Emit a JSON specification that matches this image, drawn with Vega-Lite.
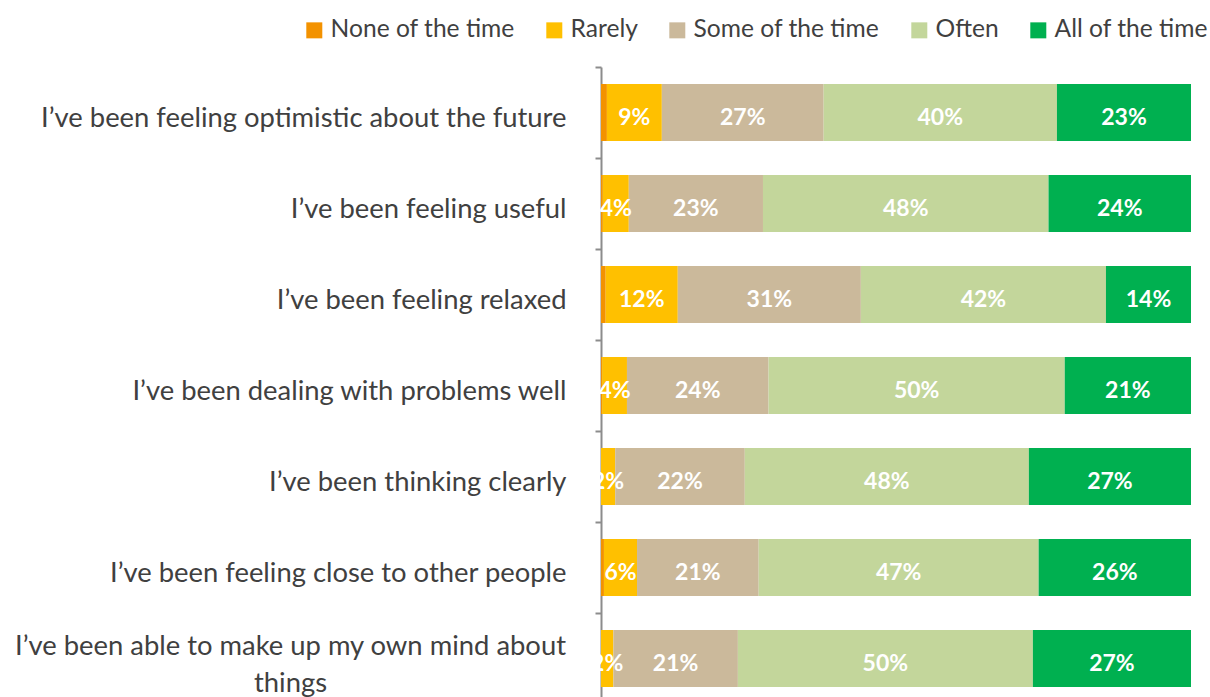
{
  "$schema": "https://vega.github.io/schema/vega-lite/v6.json",
  "autosize": "none",
  "width": 590,
  "height": 637,
  "padding": {"left": 601, "top": 67, "right": 19, "bottom": 0},
  "background": "white",
  "config": {"view": {"stroke": null}, "font": "Lato"},
  "data": {
    "values": [
      {"q": "I’ve been feeling optimistic about the future", "r": "None of the time", "k": 1, "v": 0.010},
      {"q": "I’ve been feeling optimistic about the future", "r": "Rarely", "k": 2, "v": 0.093},
      {"q": "I’ve been feeling optimistic about the future", "r": "Some of the time", "k": 3, "v": 0.274},
      {"q": "I’ve been feeling optimistic about the future", "r": "Often", "k": 4, "v": 0.395},
      {"q": "I’ve been feeling optimistic about the future", "r": "All of the time", "k": 5, "v": 0.227},
      {"q": "I’ve been feeling useful", "r": "None of the time", "k": 1, "v": 0.003},
      {"q": "I’ve been feeling useful", "r": "Rarely", "k": 2, "v": 0.044},
      {"q": "I’ve been feeling useful", "r": "Some of the time", "k": 3, "v": 0.227},
      {"q": "I’ve been feeling useful", "r": "Often", "k": 4, "v": 0.483},
      {"q": "I’ve been feeling useful", "r": "All of the time", "k": 5, "v": 0.241},
      {"q": "I’ve been feeling relaxed", "r": "None of the time", "k": 1, "v": 0.008},
      {"q": "I’ve been feeling relaxed", "r": "Rarely", "k": 2, "v": 0.122},
      {"q": "I’ve been feeling relaxed", "r": "Some of the time", "k": 3, "v": 0.310},
      {"q": "I’ve been feeling relaxed", "r": "Often", "k": 4, "v": 0.415},
      {"q": "I’ve been feeling relaxed", "r": "All of the time", "k": 5, "v": 0.144},
      {"q": "I’ve been dealing with problems well", "r": "None of the time", "k": 1, "v": 0.002},
      {"q": "I’ve been dealing with problems well", "r": "Rarely", "k": 2, "v": 0.042},
      {"q": "I’ve been dealing with problems well", "r": "Some of the time", "k": 3, "v": 0.240},
      {"q": "I’ve been dealing with problems well", "r": "Often", "k": 4, "v": 0.502},
      {"q": "I’ve been dealing with problems well", "r": "All of the time", "k": 5, "v": 0.214},
      {"q": "I’ve been thinking clearly", "r": "None of the time", "k": 1, "v": 0.0},
      {"q": "I’ve been thinking clearly", "r": "Rarely", "k": 2, "v": 0.024},
      {"q": "I’ve been thinking clearly", "r": "Some of the time", "k": 3, "v": 0.219},
      {"q": "I’ve been thinking clearly", "r": "Often", "k": 4, "v": 0.480},
      {"q": "I’ve been thinking clearly", "r": "All of the time", "k": 5, "v": 0.274},
      {"q": "I’ve been feeling close to other people", "r": "None of the time", "k": 1, "v": 0.005},
      {"q": "I’ve been feeling close to other people", "r": "Rarely", "k": 2, "v": 0.056},
      {"q": "I’ve been feeling close to other people", "r": "Some of the time", "k": 3, "v": 0.206},
      {"q": "I’ve been feeling close to other people", "r": "Often", "k": 4, "v": 0.474},
      {"q": "I’ve been feeling close to other people", "r": "All of the time", "k": 5, "v": 0.258},
      {"q": "I’ve been able to make up my own mind about|things", "r": "None of the time", "k": 1, "v": 0.0},
      {"q": "I’ve been able to make up my own mind about|things", "r": "Rarely", "k": 2, "v": 0.021},
      {"q": "I’ve been able to make up my own mind about|things", "r": "Some of the time", "k": 3, "v": 0.211},
      {"q": "I’ve been able to make up my own mind about|things", "r": "Often", "k": 4, "v": 0.500},
      {"q": "I’ve been able to make up my own mind about|things", "r": "All of the time", "k": 5, "v": 0.268}
    ]
  },
  "encoding": {
    "y": {
      "field": "q",
      "type": "nominal",
      "sort": null,
      "scale": {"paddingInner": 0, "paddingOuter": 0},
      "axis": {
        "title": null,
        "bandPosition": 0,
        "ticks": true,
        "tickSize": 6,
        "tickWidth": 2,
        "tickColor": "#8c8c8c",
        "domainColor": "#8c8c8c",
        "domainWidth": 2,
        "labelFontSize": 27.4,
        "labelColor": "#404040",
        "labelLimit": 0,
        "labelLineHeight": 37,
        "labelExpr": "split(datum.value, '|')",
        "labelAlign": {"condition": {"test": "indexof(datum.value, '|') >= 0", "value": "center"}, "value": "right"},
        "labelPadding": {"condition": {"test": "indexof(datum.value, '|') >= 0", "value": 305}, "value": 29},
        "labelOffset": {"condition": {"test": "indexof(datum.value, '|') >= 0", "value": -12}, "value": 6}
      }
    }
  },
  "layer": [
    {
      "mark": {"type": "bar", "height": {"band": 0.626}},
      "encoding": {
        "x": {"field": "v", "type": "quantitative", "stack": "normalize", "axis": null, "scale": {"domain": [0, 1], "nice": false}},
        "color": {
          "field": "r",
          "type": "nominal",
          "scale": {
            "domain": ["None of the time", "Rarely", "Some of the time", "Often", "All of the time"],
            "range": ["#F39200", "#FFC000", "#CBB99B", "#C3D69B", "#00B050"]
          },
          "legend": {
            "title": null,
            "orient": "none",
            "legendX": -299,
            "legendY": -49,
            "direction": "horizontal",
            "columns": 5,
            "columnPadding": 27,
            "symbolType": "square",
            "symbolSize": 256,
            "symbolStrokeWidth": 0,
            "labelFontSize": 24.6,
            "labelColor": "#404040",
            "labelOffset": 4,
            "labelLimit": 0
          }
        },
        "order": {"field": "k"}
      }
    },
    {
      "mark": {"type": "text", "color": "white", "fontWeight": "bold", "fontSize": 23, "baseline": "middle", "dy": 5},
      "encoding": {
        "x": {"field": "v", "type": "quantitative", "stack": "normalize", "bandPosition": 0.5},
        "text": {"field": "v", "format": ".0%"},
        "opacity": {"condition": {"test": "datum.k == 1", "value": 0}, "value": 1},
        "order": {"field": "k"}
      }
    }
  ]
}
